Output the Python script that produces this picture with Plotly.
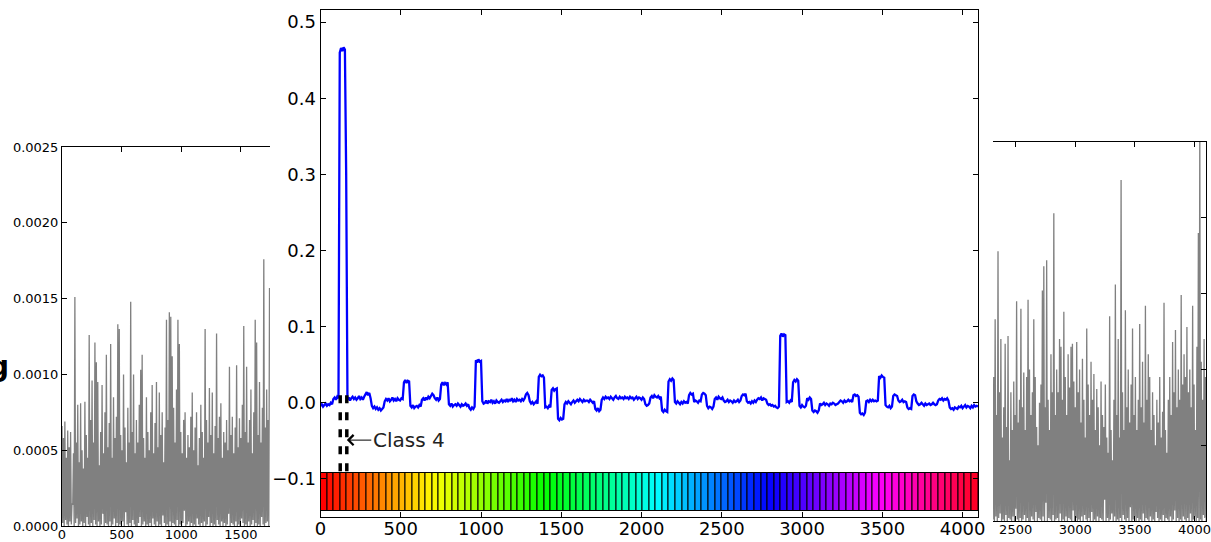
import plotly.graph_objects as go

W, H = 1211, 542

# ---------------- data ----------------
# Centre series: one sample every 8 points, values in units of 1e-3
center_step = 8
center_milli = [
    -4, -2, -5, -3, -1, -4, -2, -3, 0, -2, 5, 7, 4, 8, 6, 460,
    466, 462, 467, 464, 300, 4, 7, 3, 6, 8, 5, 7, 4, 6, 9, 5,
    7, 4, 8, 11, 14, 10, 13, 6, -4, -7, -5, -8, -6, -9, -7, -10,
    -8, -6, 2, 5, 3, 6, 2, 4, 7, 3, 5, 2, 6, 4, 3, 6,
    5, 27, 30, 26, 29, 28, -4, -6, -3, -7, -5, -4, -6, -3, -5, 4,
    6, 3, 7, 4, 8, 6, 9, 12, 10, 6, 4, 7, 3, 5, 24, 27,
    23, 26, 24, 27, -2, -4, -1, -5, -3, -2, -4, -1, -3, -5, -2, -4,
    -3, -1, -4, -2, -7, -9, -6, -8, -5, 56, 53, 57, 54, 55, 2, -1,
    0, 3, -1, 2, 1, 4, 0, 2, -1, 3, 1, 0, 2, 4, 1, 3,
    2, 5, 1, 4, 3, 6, 2, 4, 1, 5, 3, 4, 2, 5, 3, 6,
    11, 13, 10, 2, -1, 1, -2, 0, 2, -1, 34, 37, 35, 36, 33, -6,
    -5, -7, -4, -6, 17, 19, 16, 18, 19, -21, -23, -20, -22, -21, -2, 1,
    -1, 2, 0, -2, 1, 3, 0, 2, 4, 2, 5, 3, 1, 4, 2, 3,
    3, 1, 4, 2, 0, 2, -8, -10, -7, -11, -9, 4, 7, 5, 8, 6,
    7, 5, 8, 6, 4, 7, 9, 6, 5, 8, 6, 7, 5, 8, 6, 7,
    5, 8, 6, 7, 4, 6, 8, 5, 7, 6, 4, 7, 5, -2, -4, -3,
    -1, 7, 9, 6, 10, 8, 7, 9, 6, 8, -10, -12, -9, -11, -12, 28,
    31, 29, 32, 30, 1, -1, 2, 0, -2, 1, -1, 2, 0, 1, -1, 10,
    13, 11, 12, 1, 3, 2, 0, 3, 2, 11, 13, 12, 10, -4, -7, -5,
    -6, -8, -5, 5, 7, 4, 8, 6, 5, 7, 3, 1, 2, 4, 1, 3,
    2, 0, 3, 1, 2, 4, 1, 3, 9, 11, 10, 12, 2, 0, 1, -1,
    2, 0, 3, 1, 4, 6, 5, 7, 3, 6, 5, 4, -1, -3, -2, -4,
    -3, -5, -4, -6, -7, -5, 88, 91, 87, 90, 89, 1, 2, 0, 3, 1,
    27, 30, 28, 31, 29, -4, -6, -3, -5, -6, -4, 6, 4, 7, 5, -10,
    -12, -10, -11, -13, -10, -1, -3, -2, 0, -3, -1, -2, -4, -1, -2, 0,
    -1, -3, -2, -1, 1, 3, 2, 0, 3, 1, 2, 4, 2, 3, 1, 10,
    11, 9, 10, 8, -13, -15, -14, -16, -13, 2, 3, 1, 4, 2, 4, 2,
    3, 2, 3, 35, 33, 36, 34, 33, -3, -5, -6, -4, -7, -5, 9, 11,
    10, 9, 3, 1, 2, 4, 1, 2, 1, -6, -8, -7, -8, 9, 11, 10,
    2, -1, -3, -2, 0, -2, -4, -1, -3, -2, -1, -3, -2, 0, -2, -3,
    -2, 3, 5, 4, 6, 3, 5, 4, 6, 3, -6, -8, -7, -9, -6, -7,
    -8, -5, -6, -4, -7, -5, -3, -6, -4, -5, -7, -4, -6, -3, -5, -4,
    -5,
]

# Side panels: alternating peak / trough samples, 6 points apart, units of 1e-5
side_step = 6
left_start = 0
left_peaks = [
    66, 58, 69, 45, 63, 52, 62, 15, 48, 151,
    55, 80, 42, 81, 50, 38, 82, 60, 45, 126,
    70, 96, 55, 121, 108, 95, 40, 62, 93, 48,
    75, 113, 52, 68, 120, 45, 85, 58, 72, 133,
    130, 60, 50, 100, 65, 42, 78, 55, 148, 62,
    100, 48, 70, 55, 80, 103, 113, 58, 45, 85,
    62, 50, 75, 93, 48, 68, 95, 52, 88, 60,
    75, 42, 65, 136, 70, 141, 138, 112, 78, 55,
    90, 136, 120, 62, 48, 70, 75, 45, 60, 52,
    72, 88, 50, 65, 75, 40, 58, 80, 62, 45,
    130, 70, 55, 91, 60, 88, 48, 66, 127, 58,
    72, 81, 45, 62, 55, 70, 50, 105, 60, 72,
    48, 65, 106, 52, 71, 58, 80, 132, 62, 105,
    55, 70, 90, 48, 75, 136, 121, 60, 95, 55,
    78, 176, 65, 90, 70, 157,
]
left_troughs = [
    2, 0, 4, 1, 0, 3, 1, 14, 0, 2,
    5, 0, 1, 3, 0, 2, 0, 6, 1, 0,
    2, 0, 4, 1, 0, 3, 0, 1, 8, 0,
    2, 1, 0, 3, 0, 1, 5, 0, 2, 0,
    1, 0, 3, 0, 9, 1, 0, 2, 0, 4,
    1, 0, 0, 2, 6, 0, 1, 3, 0, 1,
    0, 2, 0, 5, 1, 0, 3, 0, 1, 0,
    7, 2, 0, 1, 0, 3, 0, 2, 1, 0,
    4, 0, 1, 0, 2, 10, 0, 1, 3, 0,
    2, 0, 1, 0, 5, 1, 0, 2, 0, 3,
    0, 1, 6, 0, 2, 0, 1, 0, 4, 1,
    0, 3, 0, 2, 0, 1, 8, 0, 2, 1,
    0, 3, 0, 1, 0, 5, 2, 0, 1, 0,
    3, 0, 1, 4, 0, 2, 0, 1, 0, 6,
    1, 0, 2, 3, 0,
]

right_start = 2304
right_peaks = [
    60, 95, 133, 70, 178, 85, 120, 55, 75, 117,
    62, 122, 40, 85, 60, 92, 70, 145, 65, 80,
    140, 75, 98, 60, 95, 146, 100, 70, 85, 133,
    95, 62, 50, 78, 90, 152, 168, 75, 172, 80,
    60, 110, 85, 203, 70, 100, 85, 120, 115, 80,
    138, 95, 70, 110, 88, 115, 117, 92, 75, 118,
    85, 100, 65, 107, 80, 55, 127, 90, 70, 105,
    80, 97, 60, 87, 75, 50, 92, 70, 62, 90,
    55, 45, 135, 60, 40, 80, 156, 70, 120, 55,
    225, 85, 60, 139, 75, 100, 65, 90, 127, 70,
    95, 60, 80, 130, 75, 105, 65, 142, 80, 110,
    95, 60, 85, 70, 50, 80, 65, 95, 55, 72,
    144, 60, 45, 80, 95, 70, 118, 85, 126, 75,
    100, 80, 149, 90, 110, 95, 128, 85, 100, 75,
    142, 90, 60, 115, 190, 260, 105, 80, 120, 95,
]
right_troughs = [
    1, 0, 3, 0, 2, 5, 0, 1, 0, 4,
    0, 2, 1, 0, 3, 0, 8, 1, 0, 2,
    0, 1, 4, 0, 2, 0, 0, 3, 1, 0,
    6, 0, 2, 1, 0, 3, 0, 12, 0, 2,
    1, 0, 4, 0, 1, 2, 0, 5, 0, 1,
    0, 3, 0, 2, 1, 0, 7, 0, 2, 0,
    1, 0, 3, 0, 4, 1, 0, 2, 0, 6,
    0, 1, 0, 3, 0, 2, 1, 0, 14, 0,
    2, 0, 1, 5, 0, 3, 0, 1, 0, 2,
    0, 4, 1, 0, 2, 0, 9, 0, 1, 3,
    0, 2, 0, 1, 0, 5, 0, 2, 1, 0,
    3, 0, 1, 0, 6, 2, 0, 1, 0, 4,
    0, 2, 1, 0, 3, 0, 1, 7, 0, 2,
    0, 1, 0, 3, 1, 0, 2, 0, 5, 0,
    1, 3, 0, 2, 0, 1, 0, 4, 2, 0,
]

# class strip
n_classes = 100
signal_length = 4096
class_ids = list(range(n_classes))
highlight_class = 3          # shown as "Class 4"
strip_bottom, strip_top = -0.142, -0.092
marker_top = 0.010

center_xticks = [0, 500, 1000, 1500, 2000, 2500, 3000, 3500, 4000]
center_yticks = [-0.1, 0.0, 0.1, 0.2, 0.3, 0.4, 0.5]
left_xticks = [0, 500, 1000, 1500]
right_xticks = [2500, 3000, 3500, 4000]
side_yticks = [0.0, 0.0005, 0.0010, 0.0015, 0.0020, 0.0025]

# ---------------- derived ----------------
center_y = [v / 1000 for v in center_milli]
center_x = [i * center_step for i in range(len(center_y))]


def interleave(peaks, troughs, start):
    vals = []
    for p, t in zip(peaks, troughs):
        vals += [p * 1e-5, t * 1e-5]
    if len(peaks) > len(troughs):
        vals.append(peaks[-1] * 1e-5)
    xs = [start + i * side_step for i in range(len(vals))]
    return xs, vals


lx, ly = interleave(left_peaks, left_troughs, left_start)
rx, ry = interleave(right_peaks, right_troughs, right_start)

cw = signal_length / n_classes
class_centers = [(c + 0.5) * cw for c in class_ids]
hx0 = highlight_class * cw
hx1 = (highlight_class + 1) * cw

hsv_scale = [
    [0.0, "rgb(255,0,0)"], [0.15873, "rgb(255,239,0)"], [0.174603, "rgb(247,255,0)"],
    [0.333333, "rgb(8,255,0)"], [0.349206, "rgb(0,255,16)"], [0.507937, "rgb(0,255,255)"],
    [0.666667, "rgb(0,16,255)"], [0.68254, "rgb(8,0,255)"], [0.84127, "rgb(247,0,255)"],
    [0.857143, "rgb(255,0,239)"], [1.0, "rgb(255,0,24)"],
]

FONT = "DejaVu Sans"
GREY = "rgb(128,128,128)"
fig = go.Figure()

# left panel
fig.add_trace(go.Scatter(x=lx, y=ly, mode="lines", line=dict(color=GREY, width=1.3, simplify=False),
                         xaxis="x2", yaxis="y2", showlegend=False, hoverinfo="skip"))
# right panel
fig.add_trace(go.Scatter(x=rx, y=ry, mode="lines", line=dict(color=GREY, width=1.3, simplify=False),
                         xaxis="x3", yaxis="y3", showlegend=False, hoverinfo="skip"))

# class strip
fig.add_trace(go.Bar(x=class_centers, y=[strip_top - strip_bottom] * n_classes, base=strip_bottom,
                     width=cw, marker=dict(color=[c / n_classes for c in class_ids], colorscale=hsv_scale,
                                           cmin=0, cmax=1, line=dict(color="black", width=1)),
                     xaxis="x", yaxis="y", showlegend=False, hoverinfo="skip"))
# centre signal
fig.add_trace(go.Scatter(x=center_x, y=center_y, mode="lines",
                         line=dict(color="rgb(0,0,255)", width=2.3, simplify=False),
                         xaxis="x", yaxis="y", showlegend=False, hoverinfo="skip"))
# highlight dashed lines
fig.add_trace(go.Scatter(x=[hx0, hx0, None, hx1, hx1], y=[marker_top, strip_top, None, marker_top, strip_top],
                         mode="lines", line=dict(color="black", width=3.5, dash="8px,9px"),
                         xaxis="x", yaxis="y", showlegend=False, hoverinfo="skip"))

fig.add_annotation(x=hx1, y=-0.049, xref="x", yref="y", text="Class 4", showarrow=True,
                   ax=62, ay=0, arrowhead=4, arrowsize=2, arrowwidth=1, arrowcolor="black",
                   font=dict(family=FONT, size=20, color="#222"))
fig.add_annotation(x=11 / W, y=1 - 366 / H, xref="paper", yref="paper", text="<b>g</b>", showarrow=False,
                   xanchor="right", yanchor="middle", font=dict(family=FONT, size=28, color="black"))

axis_common = dict(showgrid=False, zeroline=False, showline=True, linecolor="black", linewidth=1,
                   ticks="inside", ticklen=5, tickcolor="black", tickwidth=1, automargin=False,
                   ticklabeloverflow="allow")

fig.update_layout(
    width=W, height=H, margin=dict(l=0, r=0, t=0, b=0, autoexpand=False),
    paper_bgcolor="white", plot_bgcolor="rgba(0,0,0,0)", bargap=0,
    font=dict(family=FONT, color="black"),
    xaxis=dict(domain=[320.5 / W, 978 / W], range=[0, signal_length], anchor="y", mirror="ticks",
               tickvals=center_xticks, tickfont=dict(size=18), ticklabelstandoff=-5, **axis_common),
    yaxis=dict(domain=[1 - 517 / H, 1 - 10 / H], range=[-0.15, 0.516], anchor="x", mirror="ticks",
               tickvals=center_yticks, tickformat=".1f", tickfont=dict(size=18), **axis_common),
    xaxis2=dict(domain=[62 / W, 270 / W], range=[0, 1744], anchor="y2", mirror="ticks",
                tickvals=left_xticks, tickfont=dict(size=13), ticklabelstandoff=-4, **axis_common),
    yaxis2=dict(domain=[1 - 526 / H, 1 - 147 / H], range=[0, 0.0025], anchor="x2",
                tickvals=side_yticks, tickformat=".4f", tickfont=dict(size=13), **axis_common),
    xaxis3=dict(domain=[993 / W, 1206 / W], range=[2310, signal_length], anchor="y3", mirror="ticks",
                tickvals=right_xticks, tickfont=dict(size=13), ticklabelstandoff=-4, **axis_common),
    yaxis3=dict(domain=[1 - 521 / H, 1 - 142 / H], range=[0, 0.0025], anchor="x3", side="right",
                tickvals=side_yticks, showticklabels=False, **axis_common),
)

fig.write_html("out.html")
